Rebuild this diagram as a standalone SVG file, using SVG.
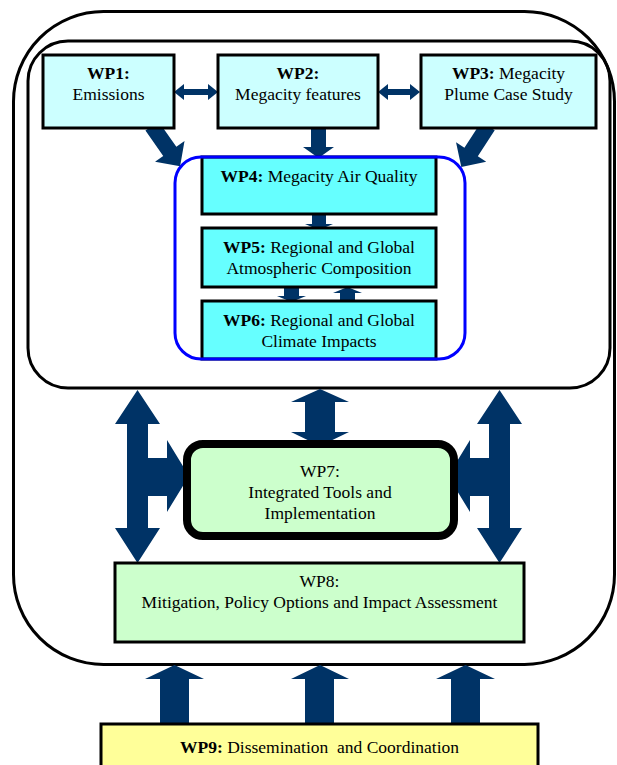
<svg xmlns="http://www.w3.org/2000/svg" width="617" height="765" viewBox="0 0 617 765" font-family="'Liberation Serif', 'Times New Roman', 'DejaVu Serif', serif">
<style>
text{font-family:'Liberation Serif','Times New Roman','DejaVu Serif',serif;font-size:17.5px;fill:#000;text-anchor:middle}
.b{font-weight:bold}
.frame{fill:none;stroke:#000;stroke-width:3}
.wpa{fill:#CCFFFF;stroke:#000;stroke-width:3}
.wpb{fill:#66FFFF;stroke:#000;stroke-width:3}
.wpg{fill:#CCFFCC;stroke:#000;stroke-width:3}
.wpy{fill:#FFFF99;stroke:#000;stroke-width:3}
.arr{fill:#003366}
</style>
<rect width="617" height="765" fill="#fff"/>
<g id="frames">
<rect class="frame" x="13.5" y="11.5" width="601" height="653" rx="90"/>
<rect class="frame" x="28" y="41" width="582" height="347" rx="40"/>
</g>
<g id="connectors">
<polygon class="arr" points="174,92 184,84 184,89 208,89 208,84 218,92 208,100 208,95 184,95 184,100"/>
<polygon class="arr" points="378,92 388,84 388,89 410,89 410,84 420,92 410,100 410,95 388,95 388,100"/>
<polygon class="arr" points="311,128 326,128 326,147 334,147 318.5,158 303,147 311,147"/>
<polygon class="arr" transform="translate(152,126) rotate(-35)" points="-8,0 8,0 8,31 18,31 0,49 -18,31 -8,31"/>
<polygon class="arr" transform="translate(488,126) rotate(33)" points="-8,0 8,0 8,31 18,31 0,49 -18,31 -8,31"/>
<polygon class="arr" points="312,212 326,212 326,224 333,224 319,230 305,224 312,224"/>
<polygon class="arr" points="284,285 299,285 299,296 306,296 291.5,302 277,296 284,296"/>
<polygon class="arr" points="340,303 355,303 355,293 362,293 347.5,287 333,293 340,293"/>
<polygon class="arr" points="137.5,390 160,424 148,424 148,458 167,458 167,440 189,476 167,512 167,496 148,496 148,528 160,528 137.5,563 115,528 127,528 127,424 115,424"/>
<polygon class="arr" points="499.5,390 477,424 489,424 489,458 470,458 470,440 448,476 470,512 470,496 489,496 489,528 477,528 499.5,563 522,528 510,528 510,424 522,424"/>
<polygon class="arr" points="320,389 349,402 335,402 335,432 349,432 320,446 291,432 305,432 305,402 291,402"/>
<polygon class="arr" points="174.5,665 204,679 189,679 189,724 160,724 160,679 145,679"/>
<polygon class="arr" points="320,665 349,679 334,679 334,724 305,724 305,679 291,679"/>
<polygon class="arr" points="465.5,665 495,679 480,679 480,724 451,724 451,679 436,679"/>
</g>
<g id="wp1">
<rect class="wpa" x="43" y="55" width="131" height="73"/>
<text x="108.5" y="79"><tspan class="b">WP1:</tspan></text>
<text x="108.5" y="100">Emissions</text>
</g>
<g id="wp2">
<rect class="wpa" x="218" y="55" width="160" height="73"/>
<text x="298" y="79"><tspan class="b">WP2:</tspan></text>
<text x="298" y="100">Megacity features</text>
</g>
<g id="wp3">
<rect class="wpa" x="421" y="55" width="175" height="73"/>
<text x="508.5" y="79"><tspan class="b">WP3:</tspan> Megacity</text>
<text x="508.5" y="100">Plume Case Study</text>
</g>
<g id="wp4">
<rect class="wpb" x="202" y="157" width="234" height="57"/>
<text x="319" y="182"><tspan class="b">WP4:</tspan> Megacity Air Quality</text>
</g>
<g id="wp5">
<rect class="wpb" x="202" y="228" width="234" height="59"/>
<text x="319" y="253"><tspan class="b">WP5:</tspan> Regional and Global</text>
<text x="319" y="274">Atmospheric Composition</text>
</g>
<g id="wp6">
<rect class="wpb" x="202" y="301" width="234" height="58"/>
<text x="319" y="326"><tspan class="b">WP6:</tspan> Regional and Global</text>
<text x="319" y="347">Climate Impacts</text>
</g>
<g id="group46">
<rect x="175" y="157" width="290" height="202" rx="26" fill="none" stroke="#0000FF" stroke-width="3"/>
</g>
<g id="wp7">
<rect x="187" y="444" width="267" height="92" rx="16" fill="#CCFFCC" stroke="#000" stroke-width="8"/>
<text x="320" y="477">WP7:</text>
<text x="320" y="498">Integrated Tools and</text>
<text x="320" y="519">Implementation</text>
</g>
<g id="wp8">
<rect class="wpg" x="115" y="563" width="409" height="79"/>
<text x="319.5" y="587">WP8:</text>
<text x="319.5" y="608">Mitigation, Policy Options and Impact Assessment</text>
</g>
<g id="wp9">
<rect class="wpy" x="101" y="724" width="437" height="50"/>
<text x="319.5" y="753" xml:space="preserve"><tspan class="b">WP9:</tspan> Dissemination  and Coordination</text>
</g>
</svg>
